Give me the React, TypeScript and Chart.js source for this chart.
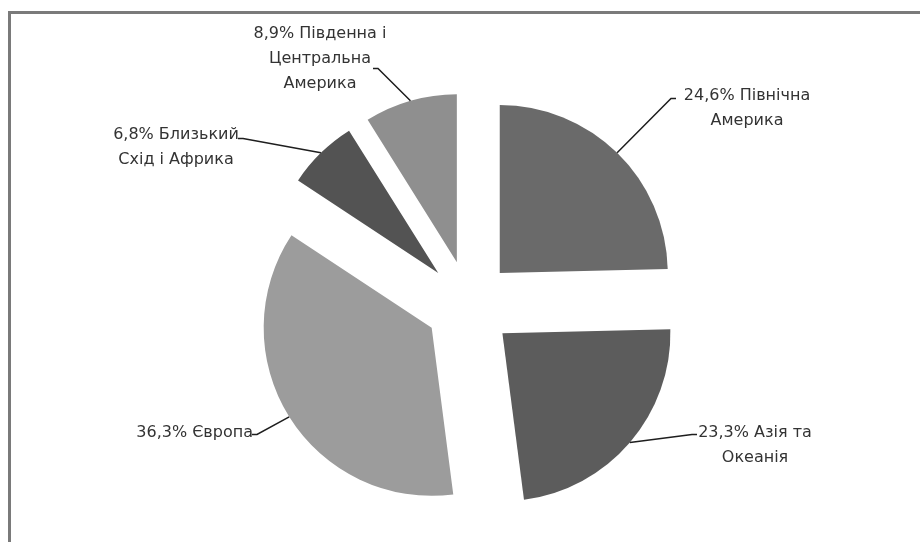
import { useEffect, useRef } from "react";
import { Chart, registerables } from "chart.js";

Chart.register(...registerables);

// ---- data ----
const regions = [
  "Північна Америка",
  "Азія та Океанія",
  "Європа",
  "Близький Схід і Африка",
  "Південна і Центральна Америка",
];
const shares = [24.6, 23.3, 36.3, 6.8, 8.9];
// how each label's region name wraps (first line is prefixed with the share)
const nameLines = [
  ["Північна", "Америка"],
  ["Азія та", "Океанія"],
  ["Європа"],
  ["Близький", "Схід і Африка"],
  ["Південна і", "Центральна", "Америка"],
];

// ---- style ----
const sliceColors = ["#6a6a6a", "#5c5c5c", "#9c9c9c", "#535353", "#8f8f8f"];
const EXPLODE = 44;
const RADIUS = 168;
const CX = 469;
const CY = 304.5;
const W = 920;
const H = 542;
// label placement relative to pie centre: text block centre, leader end, alignment
const labelLayout = [
  { tx: 278, ty: -196, lx: 202, ly: -206, align: "center" },
  { tx: 286, ty: 141, lx: 223, ly: 130, align: "center" },
  { tx: -215, ty: 128, lx: -212, ly: 130, align: "right" },
  { tx: -293, ty: -157, lx: -226, ly: -166, align: "center" },
  { tx: -149, ty: -246, lx: -91, ly: -236, align: "center" },
];
const FONT = '16px "DejaVu Sans", sans-serif';
const LINE_H = 25;

const fmt = (v: number) => v.toFixed(1).replace(".", ",") + "%";

const explodePlugin = {
  id: "explodeLabels",
  beforeDatasetDraw(chart: any, args: any) {
    const ctx = chart.ctx;
    args.meta.data.forEach((arc: any) => {
      const mid = (arc.startAngle + arc.endAngle) / 2;
      ctx.save();
      ctx.translate(Math.cos(mid) * EXPLODE, Math.sin(mid) * EXPLODE);
      arc.draw(ctx);
      ctx.restore();
    });
    return false;
  },
  afterDatasetsDraw(chart: any) {
    const ctx = chart.ctx;
    const meta = chart.getDatasetMeta(0);
    meta.data.forEach((arc: any, i: number) => {
      const mid = (arc.startAngle + arc.endAngle) / 2;
      const dx = Math.cos(mid);
      const dy = Math.sin(mid);
      const ax = arc.x + dx * (EXPLODE + arc.outerRadius);
      const ay = arc.y + dy * (EXPLODE + arc.outerRadius);
      const L = labelLayout[i];
      const ex = arc.x + L.lx;
      const ey = arc.y + L.ly;
      ctx.save();
      ctx.strokeStyle = "#1e1e1e";
      ctx.lineWidth = 1.5;
      ctx.beginPath();
      ctx.moveTo(ax, ay);
      ctx.lineTo(ex, ey);
      const hx = L.tx > 0 ? ex + 5 : ex - 5;
      ctx.lineTo(hx, ey);
      ctx.stroke();

      const lines = [fmt(shares[i]) + " " + nameLines[i][0], ...nameLines[i].slice(1)];
      ctx.font = FONT;
      ctx.fillStyle = "#333333";
      ctx.textBaseline = "middle";
      let x = arc.x + L.tx;
      if (L.align === "right") {
        ctx.textAlign = "right";
        x = ex - 4;
      } else {
        ctx.textAlign = "center";
      }
      const y0 = arc.y + L.ty - ((lines.length - 1) * LINE_H) / 2;
      lines.forEach((t, k) => ctx.fillText(t, x, y0 + k * LINE_H));
      ctx.restore();
    });
  },
};

export default function App() {
  const ref = useRef<HTMLCanvasElement | null>(null);
  useEffect(() => {
    if (!ref.current) return;
    const padTop = CY - RADIUS;
    const padBottom = H - CY - RADIUS;
    const padLeft = 200;
    const padRight = W - 2 * CX + padLeft;
    const chart = new Chart(ref.current, {
      type: "pie",
      data: {
        labels: regions,
        datasets: [
          {
            data: shares,
            backgroundColor: sliceColors,
            borderWidth: 0,
          },
        ],
      },
      options: {
        animation: false,
        responsive: false,
        layout: { padding: { top: padTop, bottom: padBottom, left: padLeft, right: padRight } },
        plugins: { legend: { display: false }, tooltip: { enabled: false } },
        events: [],
      },
      plugins: [explodePlugin],
    });
    return () => chart.destroy();
  }, []);
  return (
    <div style={{ position: "fixed", left: 0, top: 0, width: W, height: H, background: "#fff", overflow: "hidden" }}>
      <div
        style={{
          position: "absolute",
          left: 8,
          top: 11,
          width: 1000,
          height: 700,
          borderTop: "3px solid #7a7a7a",
          borderLeft: "3px solid #7a7a7a",
        }}
      />
      <canvas ref={ref} width={W} height={H} style={{ position: "absolute", left: 0, top: 0, width: W, height: H }} />
    </div>
  );
}
